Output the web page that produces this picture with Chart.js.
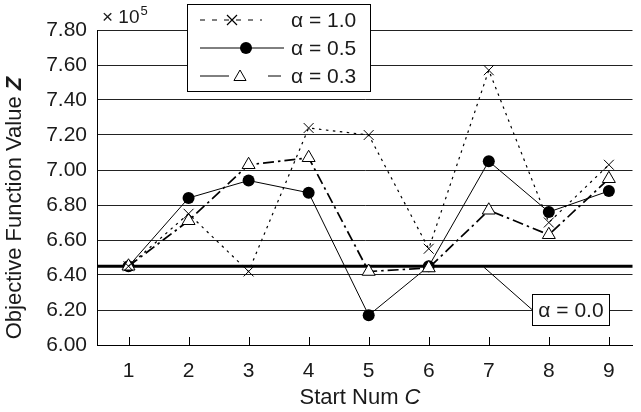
<!DOCTYPE html>
<html>
<head>
<meta charset="utf-8">
<script src="https://cdn.jsdelivr.net/npm/chart.js@4.4.1/dist/chart.umd.min.js"></script>
<style>
  html, body { margin: 0; padding: 0; background: #fff; }
  #wrap { width: 641px; height: 412px; position: relative; }
</style>
</head>
<body>
<div id="wrap"><canvas id="chart"></canvas></div>
<script>
// start numbers C and objective values Z (x 10^5) for each alpha
const startNum = [1, 2, 3, 4, 5, 6, 7, 8, 9];
const alpha10 = [6.45, 6.75, 6.42, 7.24, 7.20, 6.55, 7.57, 6.70, 7.03];
const alpha05 = [6.45, 6.84, 6.94, 6.87, 6.17, 6.45, 7.05, 6.76, 6.88];
const alpha03 = [6.45, 6.71, 7.03, 7.07, 6.42, 6.44, 6.77, 6.63, 6.95];
const alpha00 = 6.45;
const yTicks = [6.00, 6.20, 6.40, 6.60, 6.80, 7.00, 7.20, 7.40, 7.60, 7.80];

const FONT = "'Liberation Sans', Arial, Helvetica, sans-serif";
const INK = "#1a1a1a";

const pts = vals => vals.map((v, i) => ({ x: startNum[i], y: v }));

function cross(ctx, x, y, r) {
  ctx.beginPath();
  ctx.moveTo(x - r, y - r); ctx.lineTo(x + r, y + r);
  ctx.moveTo(x + r, y - r); ctx.lineTo(x - r, y + r);
  ctx.stroke();
}
function dot(ctx, x, y, r) {
  ctx.beginPath();
  ctx.arc(x, y, r, 0, Math.PI * 2);
  ctx.fill();
}
function tri(ctx, x, y, r) {
  ctx.beginPath();
  for (let k = 0; k < 3; k++) {
    const a = k * 2 * Math.PI / 3;
    const px = x + Math.sin(a) * r, py = y - Math.cos(a) * r;
    k ? ctx.lineTo(px, py) : ctx.moveTo(px, py);
  }
  ctx.closePath();
  ctx.fillStyle = "#fff";
  ctx.fill();
  ctx.stroke();
}
function seg(ctx, x1, x2, y, dash) {
  ctx.setLineDash(dash || []);
  ctx.beginPath();
  ctx.moveTo(x1, y); ctx.lineTo(x2, y);
  ctx.stroke();
  ctx.setLineDash([]);
}

const decorations = {
  id: "decorations",
  beforeDatasetsDraw(chart) {
    const { ctx, chartArea: a, scales: { x, y } } = chart;
    ctx.save();
    // inner tick marks on the C axis
    ctx.strokeStyle = "#000";
    ctx.lineWidth = 1;
    startNum.forEach(c => {
      const px = Math.round(x.getPixelForValue(c)) + 0.5;
      ctx.beginPath();
      ctx.moveTo(px, a.bottom);
      ctx.lineTo(px, a.bottom - 8);
      ctx.stroke();
    });
    // alpha = 0.0 reference level
    const py = y.getPixelForValue(alpha00);
    ctx.lineWidth = 3;
    ctx.beginPath();
    ctx.moveTo(a.left, py);
    ctx.lineTo(a.right, py);
    ctx.stroke();
    ctx.restore();
  },
  afterDraw(chart) {
    const { ctx, scales: { x, y } } = chart;
    ctx.save();
    ctx.strokeStyle = "#000";
    ctx.fillStyle = INK;
    ctx.lineWidth = 1;
    ctx.textBaseline = "middle";

    // callout for alpha = 0.0
    const lx = x.getPixelForValue(6.92), ly = y.getPixelForValue(alpha00);
    const bx = 532.5, by = 294.5, bw = 77, bh = 31;
    ctx.beginPath();
    ctx.moveTo(lx, ly + 1);
    ctx.lineTo(bx, by + bh / 2);
    ctx.stroke();
    ctx.fillStyle = "#fff";
    ctx.fillRect(bx, by, bw, bh);
    ctx.strokeRect(bx, by, bw, bh);
    ctx.fillStyle = INK;
    ctx.font = "21px " + FONT;
    ctx.textAlign = "center";
    ctx.fillText("\u03b1 = 0.0", bx + bw / 2, by + bh / 2 + 1);

    // legend
    const gx = 187.5, gy = 4.5, gw = 183, gh = 87;
    ctx.fillStyle = "#fff";
    ctx.fillRect(gx, gy, gw, gh);
    ctx.strokeRect(gx, gy, gw, gh);
    const rows = [20, 48, 76];
    ctx.lineWidth = 1.2;
    seg(ctx, 200, 262, rows[0], [5, 7]);
    cross(ctx, 232, rows[0], 5);
    ctx.lineWidth = 1;
    seg(ctx, 200, 284, rows[1]);
    ctx.fillStyle = "#000";
    dot(ctx, 246, rows[1], 6);
    seg(ctx, 200, 229, rows[2]);
    seg(ctx, 268, 281, rows[2]);
    tri(ctx, 240, rows[2] + 1, 7);
    ctx.fillStyle = INK;
    ctx.textAlign = "left";
    ctx.font = "21px " + FONT;
    ["\u03b1 = 1.0", "\u03b1 = 0.5", "\u03b1 = 0.3"].forEach((t, i) => ctx.fillText(t, 291, rows[i] + 1));

    // scale factor above the Z axis
    ctx.textBaseline = "alphabetic";
    ctx.font = "19px " + FONT;
    const sf = "\u00d7 10";
    ctx.fillText(sf, 102, 23);
    const sw = ctx.measureText(sf).width;
    ctx.font = "13px " + FONT;
    ctx.fillText("5", 102 + sw + 1, 15);

    // axis titles with italic symbols
    ctx.textBaseline = "middle";
    ctx.font = "22px " + FONT;
    ctx.textAlign = "left";
    const xa = "Start Num ", xb = "C";
    const wa = ctx.measureText(xa).width;
    ctx.font = "italic 22px " + FONT;
    const wb = ctx.measureText(xb).width;
    let sx = 360 - (wa + wb) / 2;
    ctx.font = "22px " + FONT;
    ctx.fillText(xa, sx, 398);
    ctx.font = "italic 22px " + FONT;
    ctx.fillText(xb, sx + wa, 398);

    ctx.translate(15, 208);
    ctx.rotate(-Math.PI / 2);
    const ya = "Objective Function Value ", yb = "Z";
    ctx.font = "22px " + FONT;
    const ha = ctx.measureText(ya).width;
    ctx.font = "bold italic 22px " + FONT;
    const hb = ctx.measureText(yb).width;
    sx = -(ha + hb) / 2;
    ctx.font = "22px " + FONT;
    ctx.fillText(ya, sx, 0);
    ctx.font = "bold italic 22px " + FONT;
    ctx.fillText(yb, sx + ha, 0);
    ctx.restore();
  }
};

new Chart(document.getElementById("chart"), {
  type: "line",
  data: {
    datasets: [
      {
        label: "\u03b1 = 1.0", data: pts(alpha10), order: 1,
        borderColor: "#000", borderWidth: 1.2, borderDash: [2.5, 4.5],
        pointStyle: "crossRot", pointRadius: 7, pointBorderWidth: 1,
        pointBorderColor: "#000", pointBackgroundColor: "#000"
      },
      {
        label: "\u03b1 = 0.3", data: pts(alpha03), order: 2,
        borderColor: "#000", borderWidth: 1.7, borderDash: [11, 4, 2.5, 4],
        pointStyle: "triangle", pointRadius: 7.5, pointBorderWidth: 1,
        pointBorderColor: "#000", pointBackgroundColor: "#fff"
      },
      {
        label: "\u03b1 = 0.5", data: pts(alpha05), order: 3,
        borderColor: "#000", borderWidth: 1,
        pointStyle: "circle", pointRadius: 6, pointBorderWidth: 0,
        pointBackgroundColor: "#000"
      }
    ]
  },
  options: {
    responsive: true,
    maintainAspectRatio: false,
    animation: false,
    layout: { padding: { top: 30, right: 0, bottom: 0, left: 0 } },
    plugins: { legend: { display: false }, tooltip: { enabled: false } },
    scales: {
      x: {
        type: "linear",
        min: 1 - 32 / 61,
        max: 9 + 24 / 61,
        afterBuildTicks: s => { s.ticks = startNum.map(v => ({ value: v })); },
        afterFit: s => { s.height = 67; },
        grid: { display: false },
        border: { display: true, color: "#000", width: 1 },
        ticks: { padding: 6, color: INK, font: { family: FONT, size: 21 }, maxRotation: 0 }
      },
      y: {
        min: 6.0,
        max: 7.8,
        afterBuildTicks: s => { s.ticks = yTicks.map(v => ({ value: v })); },
        afterFit: s => { s.width = 97; },
        grid: { color: "#222", lineWidth: 1, drawTicks: false },
        border: { display: true, color: "#000", width: 1 },
        ticks: { padding: 10, color: INK, font: { family: FONT, size: 21 }, callback: v => v.toFixed(2) }
      }
    }
  },
  plugins: [decorations]
});
</script>
</body>
</html>
